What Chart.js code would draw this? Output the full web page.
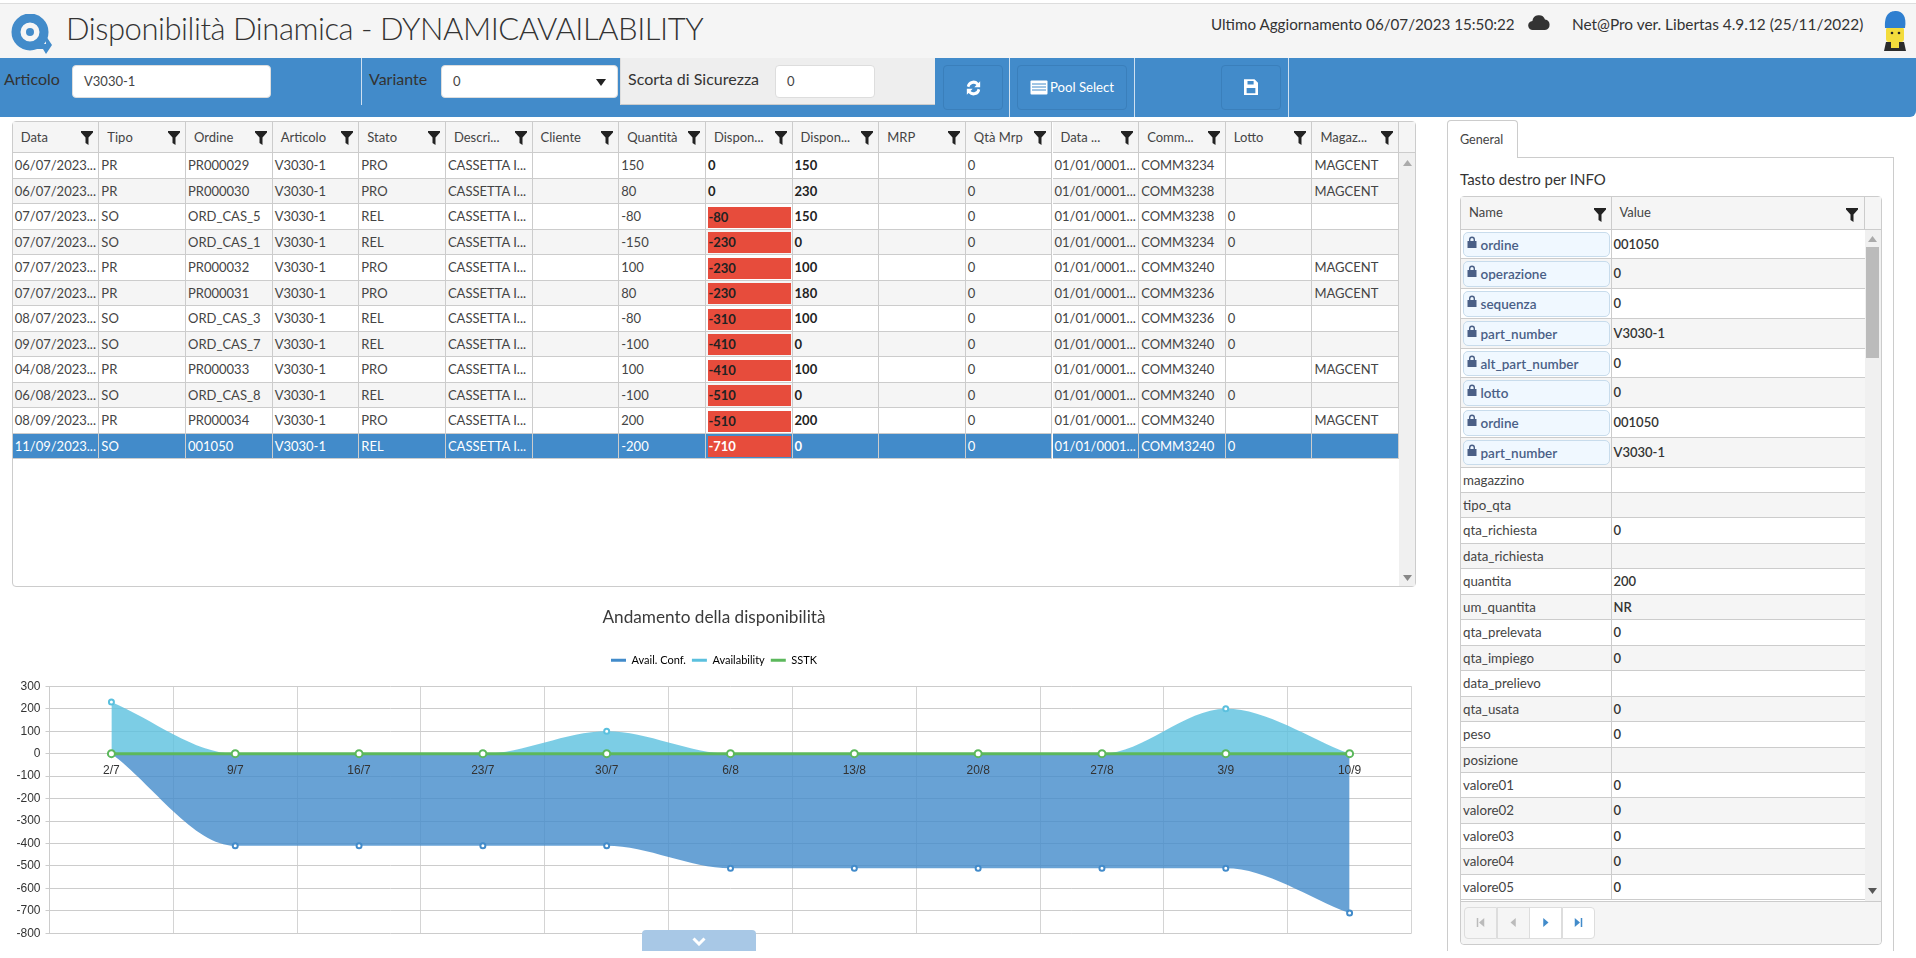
<!DOCTYPE html>
<html>
<head>
<meta charset="utf-8">
<title>Disponibilità Dinamica</title>
<script src="https://cdn.jsdelivr.net/npm/chart.js@4"></script>
<style>
html,body{margin:0;padding:0;background:#fff;width:1916px;height:958px;overflow:hidden;font-family:Lato,sans-serif;color:#333}
.a{position:absolute;box-sizing:border-box;white-space:nowrap}
.field{background:#fff;border:1px solid #ddd;border-radius:4px;font-size:13px;color:#444;line-height:31px;padding-left:11px}
.lbl{font-size:16px;color:#333;line-height:22px}
.tbtn{border:1px solid #3a7fbb;border-radius:4px;background:#428bca;color:#fff;text-align:center}
.sep{width:1px;background:#cfe0f0}
.cell{overflow:hidden;font-size:13px;color:#444;padding-left:2px;border-right:1px solid #ccc;border-bottom:1px solid #ccc}
.head{font-size:13px;color:#444;padding-left:8px;border-right:1px solid #ccc;border-bottom:1px solid #ccc;background:#f5f5f5;overflow:hidden}
.funnel{position:absolute;width:12px;height:14px;line-height:0}
.funnel svg{display:block}
.arrow{line-height:0}
</style>
</head>
<body>
<div id="page"></div>
<canvas id="chartzz" class="a" width="1430" height="350" style="left:0;top:600px"></canvas>
<script>
// chart values
const chartLabels = ['2/7','9/7','16/7','23/7','30/7','6/8','13/8','20/8','27/8','3/9','10/9'];
const availConf = [0,-410,-410,-410,-410,-510,-510,-510,-510,-510,-710];
const availability = [230,0,0,0,100,0,0,0,0,200,0];
const sstk = [0,0,0,0,0,0,0,0,0,0,0];

// main grid
const gridHeaders = ['Data','Tipo','Ordine','Articolo','Stato','Descri...','Cliente','Quantità','Dispon...','Dispon...','MRP','Qtà Mrp','Data ...','Comm...','Lotto','Magaz...'];
const gridRows = [
 ['06/07/2023...','PR','PR000029','V3030-1','PRO','CASSETTA I...','','150','0','150','','0','01/01/0001...','COMM3234','','MAGCENT'],
 ['06/07/2023...','PR','PR000030','V3030-1','PRO','CASSETTA I...','','80','0','230','','0','01/01/0001...','COMM3238','','MAGCENT'],
 ['07/07/2023...','SO','ORD_CAS_5','V3030-1','REL','CASSETTA I...','','-80','-80','150','','0','01/01/0001...','COMM3238','0',''],
 ['07/07/2023...','SO','ORD_CAS_1','V3030-1','REL','CASSETTA I...','','-150','-230','0','','0','01/01/0001...','COMM3234','0',''],
 ['07/07/2023...','PR','PR000032','V3030-1','PRO','CASSETTA I...','','100','-230','100','','0','01/01/0001...','COMM3240','','MAGCENT'],
 ['07/07/2023...','PR','PR000031','V3030-1','PRO','CASSETTA I...','','80','-230','180','','0','01/01/0001...','COMM3236','','MAGCENT'],
 ['08/07/2023...','SO','ORD_CAS_3','V3030-1','REL','CASSETTA I...','','-80','-310','100','','0','01/01/0001...','COMM3236','0',''],
 ['09/07/2023...','SO','ORD_CAS_7','V3030-1','REL','CASSETTA I...','','-100','-410','0','','0','01/01/0001...','COMM3240','0',''],
 ['04/08/2023...','PR','PR000033','V3030-1','PRO','CASSETTA I...','','100','-410','100','','0','01/01/0001...','COMM3240','','MAGCENT'],
 ['06/08/2023...','SO','ORD_CAS_8','V3030-1','REL','CASSETTA I...','','-100','-510','0','','0','01/01/0001...','COMM3240','0',''],
 ['08/09/2023...','PR','PR000034','V3030-1','PRO','CASSETTA I...','','200','-510','200','','0','01/01/0001...','COMM3240','','MAGCENT'],
 ['11/09/2023...','SO','001050','V3030-1','REL','CASSETTA I...','','-200','-710','0','','0','01/01/0001...','COMM3240','0','']
];

// side panel
const infoNames = ['ordine','operazione','sequenza','part_number','alt_part_number','lotto','ordine','part_number','magazzino','tipo_qta','qta_richiesta','data_richiesta','quantita','um_quantita','qta_prelevata','qta_impiego','data_prelievo','qta_usata','peso','posizione','valore01','valore02','valore03','valore04','valore05'];
const infoValues = ['001050','0','0','V3030-1','0','0','001050','V3030-1','','','0','','200','NR','0','0','','0','0','','0','0','0','0','0'];
const lockedRows = 8;

const funnelSvg = '<svg viewBox="0 0 12 14" width="12" height="14"><path d="M0 0H12V1.5L7.5 6.5V14L4.5 12V6.5L0 1.5Z" fill="#222"/></svg>';
const lockSvg = '<svg viewBox="0 0 10 12" width="10" height="12"><path d="M2 5V3.5a3 3 0 016 0V5h1.5v7H.5V5ZM3.4 5h3.2V3.5a1.6 1.6 0 00-3.2 0Z" fill="#4a5f86"/></svg>';

let html = '';
function box(style, cls, inner){ html += '<div class="a '+(cls||'')+'" style="'+style+'">'+(inner||'')+'</div>'; }

// header
box('left:0;top:3px;width:1916px;height:55px;background:#f5f5f5;border-top:1px solid #ddd');
box('left:10px;top:14px;width:44px;height:40px','', '<svg viewBox="0 0 44 40" width="44" height="40"><circle cx="20" cy="18" r="14" fill="none" stroke="#428bca" stroke-width="9"/><circle cx="20" cy="18" r="4" fill="#428bca"/><path d="M22 30H36V22L42 31L36 40L33 35H22Z" fill="#428bca"/></svg>');
box('left:66px;top:6px;font-size:31px;letter-spacing:-0.45px;line-height:44px;font-weight:300;color:#333','', 'Disponibilità Dinamica - DYNAMICAVAILABILITY');
box('left:1211px;top:13px;font-size:15.2px;line-height:22px;color:#333','', 'Ultimo Aggiornamento 06/07/2023 15:50:22');
box('left:1528px;top:13px;width:22px;height:20px','', '<svg viewBox="0 0 22 20" width="22" height="20"><path d="M5 17a4.5 4.5 0 01-.6-9A6.5 6.5 0 0117 6.5 5.3 5.3 0 0117 17Z" fill="#333"/></svg>');
box('left:1572px;top:13px;font-size:15.4px;line-height:22px;color:#333','', 'Net@Pro ver. Libertas 4.9.12 (25/11/2022)');
box('left:1880px;top:10px;width:30px;height:42px','', '<svg viewBox="0 0 30 42" width="30" height="42"><rect x="6" y="17" width="18" height="15" rx="3" fill="#f3dc3c"/><path d="M5 18C4 4 10 1 16 1s11 5 9 17Z" fill="#2f7fd0"/><circle cx="12" cy="23" r="1.3" fill="#222"/><circle cx="19" cy="23" r="1.3" fill="#222"/><path d="M6 32h18l2 9H4Z" fill="#2b2b2b"/><rect x="11" y="32" width="8" height="6" fill="#f3dc3c"/></svg>');

// toolbar
box('left:0;top:58px;width:1916px;height:59px;background:#428bca;border-bottom-right-radius:6px');
box('left:4px;top:68px;color:#333','lbl','Articolo');
box('left:72px;top:65px;width:199px;height:33px','field','V3030-1');
box('left:361px;top:58px;height:47px','sep');
box('left:369px;top:68px;color:#333','lbl','Variante');
box('left:441px;top:65px;width:177px;height:33px','field','0<svg style="position:absolute;left:154px;top:13px" width="10" height="7"><path d="M0 0H10L5 7Z" fill="#222"/></svg>');
box('left:620px;top:58px;width:315px;height:47px;background:#eee;border-bottom:1px solid #ccc;border-left:1px solid #ddd');
box('left:628px;top:68px;color:#333','lbl','Scorta di Sicurezza');
box('left:775px;top:65px;width:100px;height:33px','field','0');
box('left:943px;top:65px;width:60px;height:45px','tbtn','<svg viewBox="0 0 20 24" width="17" height="20" style="margin-top:12px"><path d="M2 10a8 8 0 0114-4l2-2v7h-7l2.5-2.5A5 5 0 005 11ZM18 14a8 8 0 01-14 4l-2 2v-7h7l-2.5 2.5A5 5 0 0015 13Z" fill="#fff"/></svg>');
box('left:1009px;top:58px;height:59px','sep');
box('left:1017px;top:65px;width:110px;height:45px;line-height:43px;font-size:13.2px','tbtn','<svg width="18" height="15" style="vertical-align:-3px;margin-right:2px"><rect x=".5" y=".5" width="17" height="14" rx="1" fill="#fff"/><path d="M2 4h14M2 7h14M2 10h14" stroke="#428bca"/></svg>Pool Select');
box('left:1134px;top:58px;height:59px','sep');
box('left:1221px;top:65px;width:60px;height:45px','tbtn','<svg viewBox="0 0 16 18" width="14" height="16" style="margin-top:13px"><path d="M0 0H12L16 4V18H0ZM4 2V6H11V2ZM3 10V16H13V10Z" fill="#fff" fill-rule="evenodd"/></svg>');
box('left:1288px;top:58px;height:59px','sep');

// main grid
const colLeft = 12.7, colW = 86.65, rowTop = 153, rowH = 25.5;
box('left:11.7px;top:120.7px;width:1404.6px;height:466.6px;border:1px solid #ccc;border-radius:4px;background:#fff');
gridHeaders.forEach(function(h,c){
	let x = colLeft + c*colW;
	box('left:'+x+'px;top:121.7px;width:'+colW+'px;height:31.3px;line-height:30px','head',h+'<span class="funnel" style="right:5px;top:9.5px">'+funnelSvg+'</span>');
});
box('left:'+(colLeft+16*colW)+'px;top:121.7px;width:15.6px;height:31.3px;background:#f5f5f5;border-bottom:1px solid #ccc');
gridRows.forEach(function(row,r){
	let y = rowTop + r*rowH;
	let selected = r == gridRows.length-1;
	let bg = selected ? '#428bca' : (r%2 ? '#f5f5f5' : '#fff');
	row.forEach(function(v,c){
		let x = colLeft + c*colW;
		let st = 'left:'+x+'px;top:'+y+'px;width:'+colW+'px;height:'+rowH+'px;line-height:'+(rowH-1)+'px;background:'+bg+';';
		if(selected) st += 'color:#fff;';
		if(c==8 || c==9) st += 'font-weight:700;color:'+(selected?'#fff':'#222')+';';
		let inner = v;
		if(c==8 && v[0]=='-'){
			inner = '<span class="a" style="left:2.5px;top:2.5px;width:83px;height:21px;line-height:21px;background:#e74c3c;color:'+(selected?'#fff':'#222')+'">'+v+'</span>';
		}
		box(st,'cell',inner);
	});
});
box('left:1399.3px;top:153px;width:16px;height:433px;background:#f0f0f0');
box('left:1403px;top:160px;width:9px;height:6px','arrow','<svg width="9" height="6"><path d="M0 6L4.5 0L9 6Z" fill="#aaa"/></svg>');
box('left:1403px;top:575px;width:9px;height:6px','arrow','<svg width="9" height="6"><path d="M0 0L4.5 6L9 0Z" fill="#888"/></svg>');

// side panel
box('left:1447px;top:157px;width:447px;height:794px;border:1px solid #ccc;border-bottom:0');
box('left:1447px;top:120px;width:71px;height:38px;border:1px solid #ccc;border-bottom:0;border-radius:4px 4px 0 0;background:#fff;font-size:12.6px;line-height:37px;padding-left:12px;color:#444','','General');
box('left:1460px;top:168px;font-size:15px;line-height:22px;color:#333','','Tasto destro per INFO');
box('left:1460px;top:196px;width:422px;height:749px;border:1px solid #ccc;border-radius:4px;background:#fff');
box('left:1461px;top:197px;width:150.5px;height:32.5px;line-height:30px','head','Name<span class="funnel" style="right:5px;top:11px">'+funnelSvg+'</span>');
box('left:1611.5px;top:197px;width:253px;height:32.5px;line-height:30px','head','Value<span class="funnel" style="right:6px;top:11px">'+funnelSvg+'</span>');
box('left:1864.5px;top:197px;width:16.5px;height:32.5px;background:#f5f5f5;border-bottom:1px solid #ccc');
let infoY = 229.5;
infoNames.forEach(function(n,r){
	let h = r<lockedRows ? 29.75 : 25.46;
	let bg = r%2 ? '#f5f5f5' : '#fff';
	let st = 'height:'+h+'px;top:'+infoY+'px;background:'+bg+';';
	let nameInner = n;
	if(r<lockedRows){
		nameInner = '<span class="a" style="left:1.5px;top:2px;width:147.5px;height:25.5px;background:#f0f8ff;border:1px solid #c8dcec;border-radius:5px;line-height:24px;padding-left:17px;font-weight:600;color:#4a5f86;font-size:13.5px"><span class="a" style="left:3px;top:3px;line-height:0">'+lockSvg+'</span>'+n+'</span>';
	}
	box(st+'left:1461px;width:150.5px;font-size:13.3px;line-height:'+(h-1)+'px;','cell',nameInner);
	box(st+'left:1611.5px;width:253px;line-height:'+(h-1)+'px;font-weight:600;color:#333;border-right:0','cell',infoValues[r]);
	infoY += h;
});
box('left:1864.5px;top:229.5px;width:16.5px;height:671px;background:#f0f0f0');
box('left:1866px;top:246.7px;width:13px;height:111px;background:#bbb');
box('left:1868px;top:236px;width:9px;height:6px','arrow','<svg width="9" height="6"><path d="M0 6L4.5 0L9 6Z" fill="#aaa"/></svg>');
box('left:1868px;top:888px;width:9px;height:6px','arrow','<svg width="9" height="6"><path d="M0 0L4.5 6L9 0Z" fill="#555"/></svg>');
box('left:1461px;top:900.5px;width:420px;height:43.5px;background:#f5f5f5;border-top:1px solid #ccc;border-radius:0 0 4px 4px');
const pagerArrows = ['M1 0h2v12H1ZM11 0v12L4 6Z','M9 0v12L2 6Z','M3 0v12l7-6Z','M1 0v12l7-6ZM9 0h2v12H9Z'];
pagerArrows.forEach(function(d,i){
	let dis = i<2;
	box('left:'+(1464.3+i*32.5)+'px;top:906.7px;width:33px;height:32px;border:1px solid #ddd;background:'+(dis?'#f5f5f5':'#fff')+';text-align:center;'+(i==0?'border-radius:4px 0 0 4px;':'')+(i==3?'border-radius:0 4px 4px 0;':''),'','<svg viewBox="0 0 12 12" width="9" height="9" style="margin-top:10px"><path d="'+d+'" fill="'+(dis?'#bbb':'#428bca')+'"/></svg>');
});

document.getElementById('page').innerHTML = html;

const ctx1 = document.getElementById('chartzz');
const legendColors = ['#428bca','#5bc0de','#5cb85c'];
let legendExtra = 13;
const chartzz = new Chart(ctx1, {
type: 'line',
data: {
	labels: chartLabels,
	datasets: [{
		label: 'Avail. Conf.',
		data: availConf,
		order: 3,
		fill: 'origin',
		backgroundColor: 'rgba(66,139,202,0.8)',
		borderColor: '#428bca',
		borderWidth: 0,
		pointRadius: 2.5,
		pointBorderWidth: 2,
		pointBorderColor: '#428bca',
		pointBackgroundColor: '#fff',
		cubicInterpolationMode: 'monotone'
	},{
		label: 'Availability',
		data: availability,
		order: 2,
		fill: 'origin',
		backgroundColor: 'rgba(91,192,222,0.8)',
		borderColor: '#5bc0de',
		borderWidth: 0,
		pointRadius: 2.5,
		pointBorderWidth: 2,
		pointBorderColor: '#5bc0de',
		pointBackgroundColor: '#fff',
		cubicInterpolationMode: 'monotone'
	},{
		label: 'SSTK',
		data: sstk,
		order: 1,
		fill: false,
		borderColor: '#5cb85c',
		borderWidth: 3,
		pointRadius: 3.5,
		pointBorderWidth: 2,
		pointBorderColor: '#5cb85c',
		pointBackgroundColor: '#fff'
	}]
},
options: {
	responsive: false,
	animation: false,
	devicePixelRatio: 1,
	layout: { padding: { left: 16.5, right: 18.5, bottom: 6, top: 7 } },
	plugins: {
		title: {
			display: true,
			text: 'Andamento della disponibilità',
			color: '#3a3a3a',
			font: { family: 'Lato', size: 17.2, weight: 'normal' },
			padding: { top: 0, bottom: 21 }
		},
		legend: {
			labels: {
				boxWidth: 15,
				boxHeight: 3,
				padding: 6,
				color: '#666',
				font: { family: 'Lato', size: 11 },
				generateLabels: function(chart){
					return chart.data.datasets.map(function(d,i){
						return { text: d.label, fillStyle: legendColors[i], strokeStyle: legendColors[i], lineWidth: 0, datasetIndex: i };
					});
				}
			}
		},
		tooltip: { enabled: false }
	},
	scales: {
		x: {
			position: { y: 0 },
			offset: true,
			grid: { offset: true, color: '#d4d4d4', drawTicks: false },
			border: { display: false },
			ticks: { z: 1, color: '#333', padding: 9.5, maxRotation: 0, font: { family: 'Liberation Sans', size: 12 } }
		},
		y: {
			min: -800,
			max: 300,
			afterFit: function(scale){ scale.width = 33; },
			grid: { color: '#ccc', tickLength: 4 },
			border: { color: '#ccc' },
			ticks: { stepSize: 100, color: '#333', padding: 5, font: { family: 'Liberation Sans', size: 12 } }
		}
	}
}
});

// gap under the legend, then pull the plot onto its place in the page
const legendFit = chartzz.legend.fit;
chartzz.legend.fit = function(){ legendFit.call(this); this.height += legendExtra; };
for(let i=0;i<4;i++){
	chartzz.update('none');
	legendExtra += 86.3 - chartzz.chartArea.top;
	chartzz.options.layout.padding.bottom += chartzz.chartArea.bottom - 333.3;
}
chartzz.update('none');

// expand button over the chart
let btn = document.createElement('div');
btn.className = 'a';
btn.style.cssText = 'left:642px;top:930px;width:114px;height:21px;background:#a8c8e6;border-radius:4px 4px 0 0;text-align:center';
btn.innerHTML = '<svg width="14" height="9" style="margin-top:6px"><path d="M1.5 1.5L7 7L12.5 1.5" fill="none" stroke="#fff" stroke-width="3"/></svg>';
document.body.appendChild(btn);
</script>
</body>
</html>
